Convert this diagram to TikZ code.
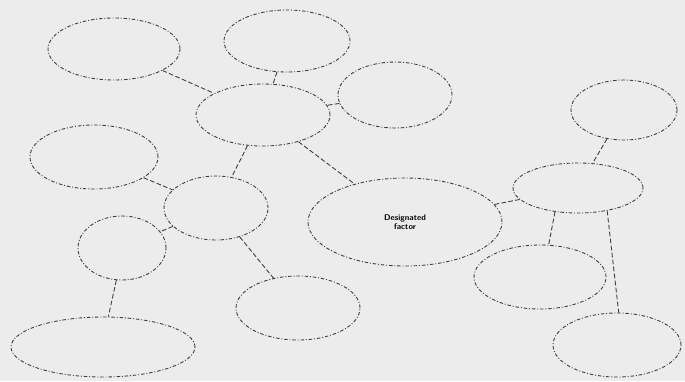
\documentclass[tikz,border=0pt]{standalone}
\usepackage{tikz}
\usetikzlibrary{positioning, shapes.geometric}
\definecolor{ScanGray}{RGB}{236,236,236}
\definecolor{InkGray}{RGB}{60,60,60}

\begin{document}
\begin{tikzpicture}[x=0.03cm, y=-0.03cm,
  bubble/.style={ellipse, draw=InkGray, line width=0.75pt, inner sep=0pt,
    dash pattern=on 3pt off 1.6pt on 0.8pt off 1.6pt},
  link/.style={draw=InkGray, line width=0.75pt, dash pattern=on 4pt off 2pt}
]
\fill[ScanGray] (0,0) rectangle (685,381);
\useasboundingbox (0,0) rectangle (685,381);

% left cluster
\node[bubble, minimum width=3.96cm, minimum height=1.86cm] (leafnw) at (114,49) {};
\node[bubble, minimum width=3.78cm, minimum height=1.86cm] (leafn) at (287,41) {};
\node[bubble, minimum width=3.42cm, minimum height=1.98cm] (leafne) at (395,95) {};
\node[bubble, minimum width=4.02cm, minimum height=1.86cm] (hubtop) at (263,115) {};
\node[bubble, minimum width=3.84cm, minimum height=1.92cm] (leafw) at (94,157) {};
\node[bubble, minimum width=3.12cm, minimum height=1.92cm] (hubleft) at (216,208) {};
\node[bubble, minimum width=2.64cm, minimum height=1.92cm] (leafsw) at (122,248) {};
\node[bubble, minimum width=5.52cm, minimum height=1.80cm] (leafbl) at (103,347) {};
\node[bubble, minimum width=3.72cm, minimum height=1.92cm] (leafs) at (298,308) {};

% centre
\node[bubble, minimum width=5.82cm, minimum height=2.64cm, font=\sffamily\bfseries\scriptsize, align=center] (core) at (405,222) {Designated\\factor};

% right cluster
\node[bubble, minimum width=3.18cm, minimum height=1.80cm] (leafre) at (624,110) {};
\node[bubble, minimum width=3.90cm, minimum height=1.50cm] (hubright) at (578,188) {};
\node[bubble, minimum width=3.96cm, minimum height=1.92cm] (leafrm) at (540,277) {};
\node[bubble, minimum width=3.84cm, minimum height=1.92cm] (leafse) at (617,345) {};

\draw[link] (leafnw) -- (hubtop);
\draw[link] (leafn) -- (hubtop);
\draw[link] (leafne) -- (hubtop);
\draw[link] (hubtop) -- (hubleft);
\draw[link] (hubtop) -- (core);
\draw[link] (leafw) -- (hubleft);
\draw[link] (hubleft) -- (leafsw);
\draw[link] (leafsw.-100) -- (leafbl.80);
\draw[link] (hubleft) -- (leafs);
\draw[link] (core) -- (hubright);
\draw[link] (leafre) -- (hubright);
\draw[link] (hubright.-134) -- (leafrm.75);
\draw[link] (hubright.-38) -- (leafse.87);
\end{tikzpicture}
\end{document}
